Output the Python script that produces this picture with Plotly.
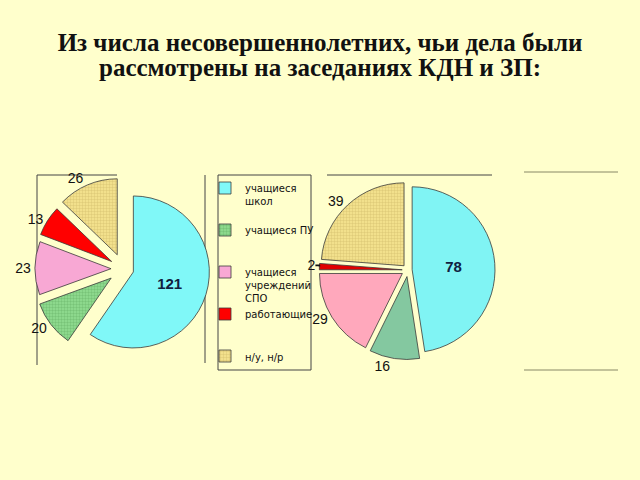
import plotly.graph_objects as go

# ---- data ----
categories = ["учащиеся школ", "учащиеся ПУ", "учащиеся учреждений СПО", "работающие", "н/у, н/р"]
legend_labels = ["учащиеся<br>школ<br>\u00a0", "учащиеся ПУ<br>\u00a0<br>\u00a0",
                 "учащиеся<br>учреждений<br>СПО", "работающие<br>\u00a0<br>\u00a0", "н/у, н/р"]
left_values = [121, 20, 23, 13, 26]
right_values = [78, 16, 29, 2, 39]
title_line1 = "Из числа несовершеннолетних, чьи дела были"
title_line2 = "рассмотрены на заседаниях КДН и ЗП:"

# ---- styles ----
left_colors = ["#80F8F8", "#8CD88C", "#F8A8D4", "#FF0000", "#F2E08C"]
right_colors = ["#80F4F4", "#84C8A0", "#FFA8BC", "#E00000", "#F2E08C"]
left_fg = ["#80F8F8", "#4E9A4E", "#F8A8D4", "#FF0000", "#B8A050"]
right_fg = ["#80F4F4", "#84C8A0", "#FFA8BC", "#E00000", "#B8A050"]
left_pull = [0.14, 0.2, 0.16, 0.18, 0.2]
right_pull = [0.05, 0.08, 0.08, 0.07, 0.07]
templates = ["<b>%{value}</b>", "%{value}", "%{value}", "%{value}", "%{value}"]
positions = ["inside", "outside", "outside", "outside", "outside"]
patterns = ["", "+", "", "", "+"]
BG = "#FFFFCC"


def pie(values, colors, fg, pull, domx, domy, legend):
    return go.Pie(
        labels=legend_labels, values=values, sort=False, direction="clockwise",
        rotation=0, pull=pull, domain=dict(x=domx, y=domy),
        marker=dict(colors=colors, line=dict(color="#3a3a3a", width=0.8),
                    pattern=dict(shape=patterns, size=3, solidity=0.2,
                                 fgcolor=fg, bgcolor=colors, fgopacity=0.6)),
        texttemplate=templates, textposition=positions,
        insidetextorientation="horizontal",
        insidetextfont=dict(family="Liberation Sans", size=15, color="#102040"),
        outsidetextfont=dict(family="Liberation Sans", size=14, color="#111111"),
        legend=legend, hoverinfo="label+value",
    )


fig = go.Figure()
fig.add_trace(pie(left_values, left_colors, left_fg, left_pull,
                  [32 / 640, 214.4 / 640], [(480 - 360) / 480, (480 - 177.6) / 480], "legend"))
fig.add_trace(pie(right_values, right_colors, right_fg, right_pull,
                  [318.5 / 640, 497.5 / 640], [(480 - 359.5) / 480, (480 - 180.5) / 480], "legend2"))

line = dict(color="#444444", width=1)
shapes = [
    # left pie frame
    dict(type="line", xref="paper", yref="paper", x0=37/640, x1=37/640, y0=1-175/480, y1=1-365/480, line=line, layer="below"),
    dict(type="line", xref="paper", yref="paper", x0=37/640, x1=117/640, y0=1-175/480, y1=1-175/480, line=line, layer="below"),
    dict(type="line", xref="paper", yref="paper", x0=205/640, x1=205/640, y0=1-175/480, y1=1-363/480, line=line, layer="below"),
    # left legend box
    dict(type="rect", xref="paper", yref="paper", x0=218/640, x1=311/640, y0=1-175/480, y1=1-370/480, line=line, layer="below"),
    # right pie frame top
    dict(type="line", xref="paper", yref="paper", x0=327/640, x1=492/640, y0=1-175/480, y1=1-175/480, line=line, layer="below"),
    # right legend lines
    dict(type="line", xref="paper", yref="paper", x0=524/640, x1=618/640, y0=1-172/480, y1=1-172/480, line=dict(color="#888866", width=1), layer="below"),
    dict(type="line", xref="paper", yref="paper", x0=524/640, x1=618/640, y0=1-370/480, y1=1-370/480, line=dict(color="#888866", width=1), layer="below"),
]

title_font = dict(family="Liberation Serif", size=25, color="#111111", weight="bold")
legend_font = dict(family="DejaVu Sans", size=10, color="#111111")
fig.update_layout(
    width=640, height=480, margin=dict(l=0, r=0, t=0, b=0, autoexpand=False),
    paper_bgcolor=BG, plot_bgcolor=BG,
    title=dict(text=title_line1, x=0.5, xanchor="center", y=1 - 42/480, yanchor="middle",
               font=title_font),
    annotations=[dict(text=title_line2, xref="paper", yref="paper", x=0.5, y=1 - 68/480,
                      xanchor="center", yanchor="middle", showarrow=False, font=title_font)],
    showlegend=True,
    legend=dict(x=205/640, xanchor="left", y=1-175/480, yanchor="top", bgcolor="rgba(0,0,0,0)",
                font=legend_font, valign="top", itemwidth=30),
    legend2=dict(x=510/640, xanchor="left", y=1-174/480, yanchor="top", bgcolor="rgba(0,0,0,0)",
                 font=legend_font, valign="top", itemwidth=30),
    shapes=shapes,
)

fig.write_html("out.html")
